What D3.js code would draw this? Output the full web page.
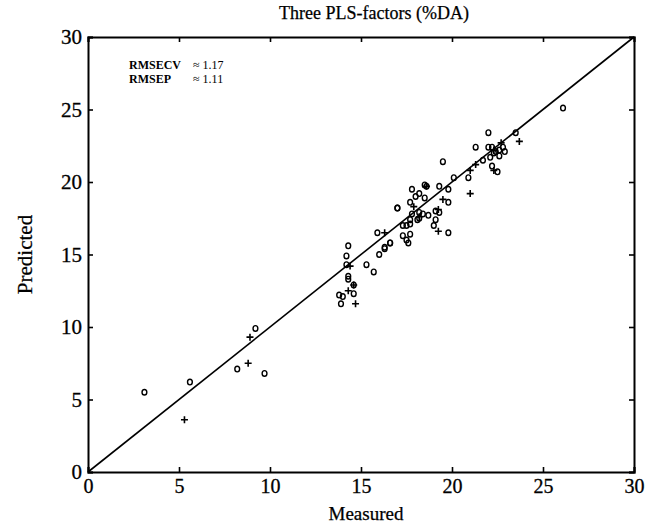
<!DOCTYPE html>
<html>
<head>
<meta charset="utf-8">
<script src="https://cdn.jsdelivr.net/npm/d3@7"></script>
<style>
  body { margin: 0; background: #fff; }
  svg { display: block; }
  text { font-family: "Liberation Serif", "Times New Roman", serif; fill: #000; }
</style>
</head>
<body>
<div id="chart"></div>
<script>
// calibration samples (cross-validated), drawn as "o"
const calMeasured  = [3.1, 5.6, 8.2, 9.7, 9.2, 13.8, 14.0, 13.9, 14.6, 14.6, 14.3, 14.3, 14.2, 14.2, 14.3,
  15.3, 15.7, 16.0, 16.3, 16.6, 15.9, 17.0, 17.3, 17.5, 17.7, 17.3, 17.7, 17.5, 17.6, 17.7,
  17.8, 18.2, 18.7, 18.2, 17.7, 18.1, 17.8, 18.2, 18.0, 18.5, 18.6, 18.5, 19.3, 19.8, 19.0,
  19.1, 19.3, 19.8, 19.8, 19.5, 19.1, 20.1, 20.9, 21.3, 21.7, 22.0, 23.5, 22.0, 22.2, 22.4,
  22.6, 22.8, 22.6, 22.1, 22.2, 22.5, 26.1, 16.6, 16.3, 17.0, 18.4, 22.3, 22.9];
const calPredicted = [5.5, 6.2, 7.1, 6.8, 9.9, 12.2, 12.1, 11.6, 12.3, 12.9, 13.3, 13.5, 14.3, 14.9, 15.6,
  14.3, 13.8, 15.0, 15.4, 15.8, 16.5, 18.2, 17.0, 17.0, 17.1, 16.3, 16.4, 16.0, 15.8, 18.6,
  17.8, 17.9, 17.7, 17.5, 17.4, 17.4, 19.5, 19.2, 19.0, 18.9, 19.7, 19.8, 19.7, 19.5, 17.0,
  17.4, 17.9, 18.6, 16.5, 21.4, 18.0, 20.3, 20.3, 22.4, 21.5, 23.4, 23.4, 22.4, 22.4, 22.1,
  22.2, 22.4, 21.8, 21.7, 21.1, 20.7, 25.1, 15.8, 15.5, 18.2, 17.8, 22.0, 22.1];

// test set samples, drawn as "+"
const testMeasured  = [5.3, 8.8, 8.9, 14.4, 14.3, 14.6, 14.7, 16.3, 17.9, 18.2, 19.25, 19.25, 19.5,
  21.0, 21.0, 21.3, 22.3, 22.7, 22.3, 23.7, 18.6];
const testPredicted = [3.6, 7.5, 9.3, 14.2, 12.5, 12.9, 11.6, 16.5, 18.3, 17.6, 18.1, 16.6, 18.8,
  19.2, 20.8, 21.2, 20.8, 22.7, 22.2, 22.8, 19.7];

const tickValues = [0, 5, 10, 15, 20, 25, 30];
const statLabels = ["RMSECV", "RMSEP"];
const statValues = ["1.17", "1.11"];

const width = 653, height = 524;
const margin = { top: 37, right: 19, bottom: 52, left: 88 };

const svg = d3.select("#chart").append("svg")
  .attr("width", width)
  .attr("height", height);

const xScale = d3.scaleLinear().domain([0, 30]).range([margin.left, width - margin.right]);
const yScale = d3.scaleLinear().domain([0, 30]).range([height - margin.bottom, margin.top]);

// axes, ticks pointing inward on all sides
const tickLen = 5;
svg.append("g")
  .attr("transform", `translate(0,${yScale(0)})`)
  .call(d3.axisBottom(xScale).tickValues(tickValues).tickSize(-tickLen).tickPadding(7))
  .call(g => g.selectAll("text").style("font-size", "20px"));
svg.append("g")
  .attr("transform", `translate(${xScale(0)},0)`)
  .call(d3.axisLeft(yScale).tickValues(tickValues).tickSize(-tickLen).tickPadding(6))
  .call(g => g.selectAll("text").style("font-size", "21px"));
svg.append("g")
  .attr("transform", `translate(0,${yScale(30)})`)
  .call(d3.axisTop(xScale).tickValues(tickValues).tickSize(-tickLen).tickFormat(""));
svg.append("g")
  .attr("transform", `translate(${xScale(30)},0)`)
  .call(d3.axisRight(yScale).tickValues(tickValues).tickSize(-tickLen).tickFormat(""));

svg.selectAll(".domain, .tick line")
  .attr("stroke", "#000")
  .attr("stroke-width", 1.6);
svg.selectAll(".domain").attr("stroke-width", 2);
svg.selectAll(".tick text")
  .attr("stroke", "#000")
  .attr("stroke-width", 0.3);

// identity line
svg.append("line")
  .attr("x1", xScale(0)).attr("y1", yScale(0))
  .attr("x2", xScale(30)).attr("y2", yScale(30))
  .attr("stroke", "#000")
  .attr("stroke-width", 1.6);

// "o" markers
const calData = calMeasured.map((m, i) => ({ m, p: calPredicted[i] }));
svg.append("g").selectAll("ellipse")
  .data(calData)
  .join("ellipse")
    .attr("cx", d => xScale(d.m))
    .attr("cy", d => yScale(d.p))
    .attr("rx", 2.4)
    .attr("ry", 2.8)
    .attr("fill", "none")
    .attr("stroke", "#000")
    .attr("stroke-width", 1.4);

// "+" markers
const testData = testMeasured.map((m, i) => ({ m, p: testPredicted[i] }));
svg.append("g").selectAll("path")
  .data(testData)
  .join("path")
    .attr("d", d => {
      const x = xScale(d.m), y = yScale(d.p), s = 3.5;
      return `M${x - s},${y}H${x + s}M${x},${y - s}V${y + s}`;
    })
    .attr("stroke", "#000")
    .attr("stroke-width", 1.6);

// title and axis titles
svg.append("text")
  .attr("x", 374).attr("y", 19)
  .attr("text-anchor", "middle")
  .attr("stroke", "#000").attr("stroke-width", 0.25)
  .style("font-size", "18px")
  .text("Three PLS-factors (%DA)");

svg.append("text")
  .attr("x", 366).attr("y", 520)
  .attr("text-anchor", "middle")
  .attr("stroke", "#000").attr("stroke-width", 0.25)
  .style("font-size", "19px")
  .text("Measured");

svg.append("text")
  .attr("transform", `translate(32,${(yScale(0) + yScale(30)) / 2}) rotate(-90)`)
  .attr("text-anchor", "middle")
  .attr("stroke", "#000").attr("stroke-width", 0.25)
  .style("font-size", "21px")
  .text("Predicted");

// error statistics
const stats = svg.append("g").style("font-size", "12px");
statLabels.forEach((lab, i) => {
  stats.append("text")
    .attr("x", 129).attr("y", 69 + i * 14)
    .style("font-weight", "bold")
    .text(lab);
  stats.append("text")
    .attr("x", 193).attr("y", 69 + i * 14)
    .text("\u2248 " + statValues[i]);
});
</script>
</body>
</html>
